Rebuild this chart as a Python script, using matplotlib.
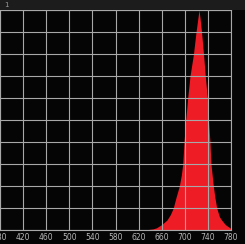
import matplotlib
matplotlib.use("Agg")
import matplotlib.pyplot as plt

# Emission spectrum
wavelength = [630, 645, 651, 660, 669, 675, 680, 685, 690.5, 694, 696.4, 698.6,
              701.6, 705, 709, 715, 719.4, 722.5, 724.6, 726.5, 729, 732.4,
              735.5, 739, 741, 743.6, 745.3, 749.4, 752, 755.2, 760, 763.8,
              770, 778, 780]
intensity = [0, 0.005, 0.01, 0.025, 0.045, 0.07, 0.1, 0.15, 0.2, 0.25, 0.3, 0.4,
             0.5, 0.6, 0.7, 0.8, 0.9, 0.96, 1.0, 0.96, 0.9, 0.8,
             0.7, 0.6, 0.5, 0.4, 0.3, 0.2, 0.15, 0.1, 0.06, 0.045,
             0.025, 0.01, 0.008]
x_ticks = [380, 420, 460, 500, 540, 580, 620, 660, 700, 740, 780]
y_ticks = [0, 0.1, 0.2, 0.3, 0.4, 0.5, 0.6, 0.7, 0.8, 0.9, 1.0]
corner_label = "1"

W, H = 245, 244
fig = plt.figure(figsize=(W / 100, H / 100), dpi=100, facecolor="#050505")
ax = fig.add_axes([0 / W, 14 / H, 231 / W, 220 / H])
ax.set_facecolor("#050505")

ax.fill_between(wavelength, intensity, 0, color="#ee1c25", linewidth=0, zorder=2)

ax.set_xlim(380, 780)
ax.set_ylim(0, 1)
ax.set_xticks(x_ticks)
ax.set_yticks(y_ticks)
ax.set_yticklabels([])
ax.set_xticklabels([str(t) for t in x_ticks],
                   fontsize=5.5, color="#b8b8b8",
                   family=["Liberation Sans Narrow", "DejaVu Sans"])
ax.tick_params(axis="both", length=0, pad=2)
ax.grid(True, color="#a8a8a8", linewidth=0.8, zorder=3)
ax.set_axisbelow(False)
for s in ax.spines.values():
    s.set_color("#a8a8a8")
    s.set_linewidth(0.8)

# dark strip at top with label
fig.patches.append(plt.Rectangle((0, 234 / H), 1, 10 / H, transform=fig.transFigure,
                                 facecolor="#1c1c1c", edgecolor="none", zorder=0))
fig.text(4 / W, 1 - 5 / H, corner_label, fontsize=5, color="#9a9a9a",
         va="center", ha="left")

fig.savefig("out.png", dpi=100, facecolor=fig.get_facecolor())
